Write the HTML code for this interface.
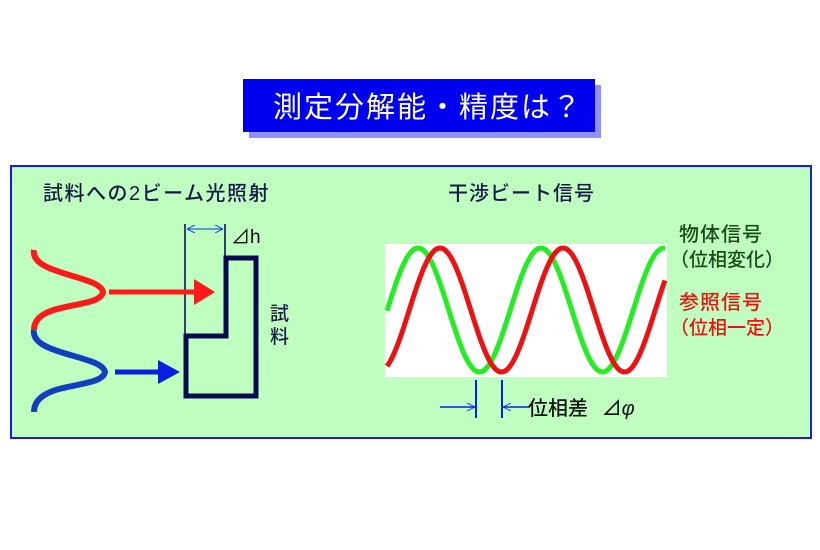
<!DOCTYPE html>
<html><head><meta charset="utf-8"><style>
body{margin:0;background:#fff;width:820px;height:550px;overflow:hidden}
svg{display:block}
text{font-family:"Liberation Sans","Noto Sans CJK JP",sans-serif}
</style></head><body>
<svg width="820" height="550" viewBox="0 0 820 550" xmlns="http://www.w3.org/2000/svg">
<defs>
<marker id="ah" viewBox="0 0 10 10" refX="10" refY="5" markerWidth="8" markerHeight="8" orient="auto-start-reverse" markerUnits="userSpaceOnUse"><path d="M0,0 L10,5 L0,10" fill="none" stroke="#0033ff" stroke-width="1.2"/></marker>
</defs>
<rect x="249" y="85" width="352" height="53" fill="#8f8fff"/>
<rect x="243" y="79" width="352" height="53" fill="#0000ee"/>
<text x="273" y="117" font-size="29" fill="#fff" letter-spacing="2">測定分解能・精度は？</text>

<rect x="11" y="166" width="800" height="272" fill="#bfffbf" stroke="#1a1aee" stroke-width="2"/>
<text x="43" y="200" font-size="20" fill="#1a1a4a" letter-spacing="1.5" font-weight="500">試料への2ビーム光照射</text>
<text x="448" y="200" font-size="20" fill="#1a1a4a" letter-spacing="1" font-weight="500">干渉ビート信号</text>

<!-- sample -->
<line x1="185" y1="224" x2="185" y2="336" stroke="#000055" stroke-width="1.5"/>
<line x1="225" y1="224" x2="225" y2="258" stroke="#000055" stroke-width="1.5"/>
<line x1="187" y1="229" x2="223" y2="229" stroke="#0033ff" stroke-width="1" marker-start="url(#ah)" marker-end="url(#ah)"/>
<text x="231" y="243" font-size="19" fill="#000">⊿h</text>
<polygon points="226,258 256,258 256,396 186,396 186,336 226,336" fill="none" stroke="#0a0a50" stroke-width="5"/>
<text x="270" y="320" font-size="19" fill="#1a1a4a" font-weight="500">試</text>
<text x="270" y="343" font-size="19" fill="#1a1a4a" font-weight="500">料</text>

<path d="M34,250 C30,275 100,275 103,292 C100,310 34,300 34,330" fill="none" stroke="#ff1a1a" stroke-width="6"/>
<path d="M34,330 C30,355 102,355 105,372 C102,390 34,380 34,412" fill="none" stroke="#1040c0" stroke-width="6"/>
<line x1="109" y1="292" x2="196" y2="292" stroke="#ff1a1a" stroke-width="5"/>
<polygon points="194,279 215,292 194,305" fill="#ff1a1a"/>
<line x1="115" y1="372" x2="160" y2="372" stroke="#0a20e0" stroke-width="5"/>
<polygon points="158,360 180,372 158,384" fill="#0a20e0"/>

<!-- plot -->
<rect x="385" y="244" width="282" height="133" fill="#fff"/>
<polyline id="g" fill="none" stroke="#22ee22" stroke-width="5"/>
<polyline id="r" fill="none" stroke="#ee1111" stroke-width="5"/>

<text x="679" y="241" font-size="20" fill="#1a4a1a" letter-spacing="1" font-weight="500">物体信号</text>
<text x="670" y="266" font-size="19" fill="#1a4a1a" font-weight="500">（位相変化）</text>
<text x="679" y="309" font-size="20" fill="#ee1111" letter-spacing="1" font-weight="500">参照信号</text>
<text x="670" y="334" font-size="19" fill="#ee1111" font-weight="500">（位相一定）</text>

<line x1="476" y1="380" x2="476" y2="418" stroke="#0a20e0" stroke-width="2"/>
<line x1="502" y1="380" x2="502" y2="418" stroke="#0a20e0" stroke-width="2"/>
<line x1="440" y1="407" x2="475" y2="407" stroke="#0a20e0" stroke-width="1.5" marker-end="url(#ah)"/>
<line x1="530" y1="407" x2="503" y2="407" stroke="#0a20e0" stroke-width="1.5" marker-end="url(#ah)"/>
<text x="528" y="415" font-size="20" fill="#111" font-weight="500">位相差 <tspan dx="8">⊿</tspan><tspan font-style="italic">φ</tspan></text>
</svg>
<script>
function w(id,x0,xs,xe){var p=[];for(var x=xs;x<=xe;x+=2){p.push(x+","+(310-62*Math.cos(2*Math.PI*(x-x0)/123)).toFixed(1));}document.getElementById(id).setAttribute("points",p.join(" "));}
w("g",418,387,665);w("r",440,387,665);
</script>
</body></html>
